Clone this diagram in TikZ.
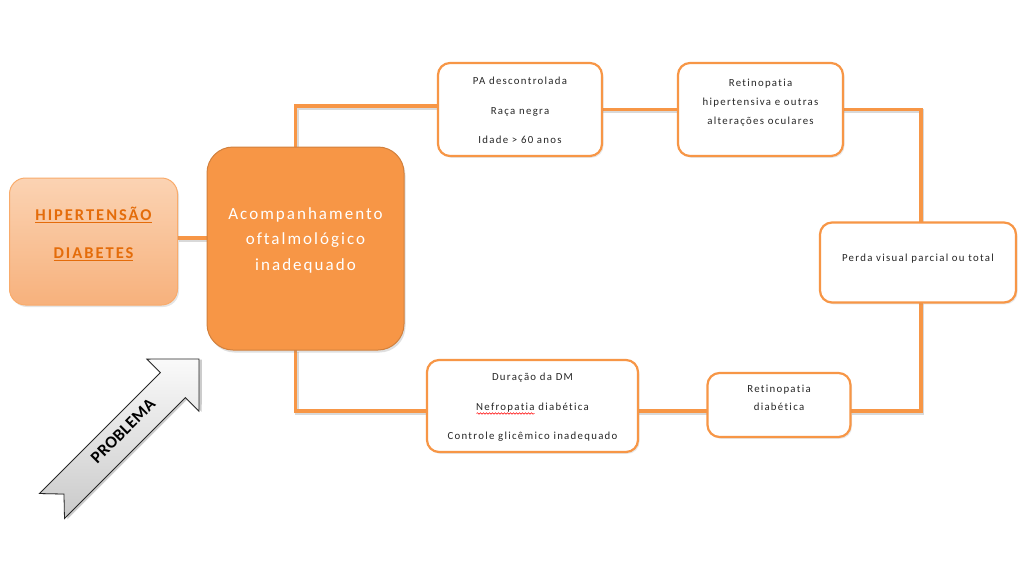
\documentclass[tikz,border=0pt]{standalone}
\usepackage{fontspec}
\setmainfont{Carlito}[LetterSpace=12, Ligatures=NoCommon]
\usetikzlibrary{shadows,decorations.pathmorphing,calc}
\pgfdeclarelayer{background}
\pgfdeclarelayer{paper}
\pgfsetlayers{paper,background,main}
\definecolor{orMain}{HTML}{F79646}
\definecolor{orDark}{HTML}{E46C0A}
\definecolor{orLightTop}{HTML}{FBD3B3}
\definecolor{orLightBot}{HTML}{F7B17C}
\definecolor{txtDark}{HTML}{262626}
\begin{document}
\begin{tikzpicture}[x=1pt,y=-1pt,
  box/.style={draw=orMain, line width=2.2pt, rounded corners=12pt, fill=white,
    inner sep=0pt, outer sep=0pt,
    drop shadow={opacity=0.18, shadow xshift=1.5pt, shadow yshift=-1.8pt}},
  smalltxt/.style={text=txtDark, align=center, inner sep=0pt},
  conn/.style={draw=orMain, line width=3.8pt},
  connshadow/.style={draw=black, opacity=0.15, line width=3.8pt},
]
\begin{pgfonlayer}{paper}
\fill[white] (0,0) rectangle (1024,581);
\end{pgfonlayer}
\useasboundingbox (0,0) rectangle (1024,581);

% boxes
\node[draw=orMain!80, line width=1pt, rounded corners=16pt, inner sep=0pt, outer sep=0pt,
      top color=orLightTop, bottom color=orLightBot,
      minimum width=168pt, minimum height=127pt,
      drop shadow={opacity=0.2, shadow xshift=1.5pt, shadow yshift=-2pt}] (hd) at (93.5,241.5) {};
\node[draw=orMain!85!black, line width=1pt, rounded corners=26pt, fill=orMain, inner sep=0pt, outer sep=0pt,
      minimum width=197pt, minimum height=203pt,
      drop shadow={opacity=0.25, shadow xshift=1.5pt, shadow yshift=-2.5pt}] (big) at (305.5,248.5) {};
\node[box, minimum width=164pt, minimum height=93pt] (pa) at (520,109.5) {};
\node[box, minimum width=165pt, minimum height=93pt] (rh) at (760.5,109.5) {};
\node[box, minimum width=196pt, minimum height=80pt] (pv) at (918,262.5) {};
\node[box, minimum width=143pt, minimum height=64pt] (rd) at (779,405) {};
\node[box, minimum width=211pt, minimum height=92pt] (dm) at (532.5,406) {};

% texts
\node[text=orDark, align=center, inner sep=0pt, font=\bfseries\fontsize{16.5}{38}\selectfont] (hdt)
  at ([yshift=7.5pt]hd.center) {\underline{HIPERTENSÃO}\\\underline{DIABETES}};
\node[text=white, align=center, inner sep=0pt, font=\fontsize{17}{25.5}\selectfont] (bigt)
  at ([yshift=8.5pt]big.center) {Acompanhamento\\oftalmológico\\inadequado};
\node[smalltxt, font=\fontsize{10.8}{29.5}\selectfont] (pat) at ([yshift=-1pt]pa.center)
  {PA descontrolada\\Raça negra\\Idade > 60 anos};
\node[smalltxt, font=\fontsize{10.8}{19}\selectfont] (rht) at ([yshift=6.5pt]rh.center)
  {Retinopatia\\hipertensiva e outras\\alterações oculares};
\node[smalltxt, font=\fontsize{10.8}{19}\selectfont] (pvt) at ([yshift=4pt]pv.center)
  {Perda visual parcial ou total};
\node[smalltxt, font=\fontsize{10.8}{18}\selectfont] (rdt) at ([yshift=7pt]rd.center)
  {Retinopatia\\diabética};
\node[smalltxt, font=\fontsize{10.8}{29.5}\selectfont] (dmt) at ([yshift=-1.5pt]dm.center)
  {Duração da DM\\Nefropatia diabética\\Controle glicêmico inadequado};
\draw[red, line width=0.5pt, decorate, decoration={snake, amplitude=0.8pt, segment length=3pt}]
  ([xshift=-56pt,yshift=-7.5pt]dm.center) -- ([xshift=2pt,yshift=-7.5pt]dm.center);

% connectors
\begin{pgfonlayer}{background}
\begin{scope}[transform canvas={xshift=1.2pt,yshift=-1.8pt}]
\draw[connshadow] ([yshift=3.5pt]hd.east) -- ([yshift=3.5pt]hd.east -| big.west);
\draw[connshadow] ([xshift=-10pt]big.north) |- ([yshift=3.5pt]pa.west);
\draw[connshadow] (pa.east) -- (rh.west);
\draw[connshadow] (rh.east) -| ([xshift=3pt]pv.north);
\draw[connshadow] ([xshift=3pt]pv.south) |- ([yshift=-6pt]rd.east);
\draw[connshadow] ([yshift=-6pt]rd.west) -- ([yshift=-6pt]rd.west -| dm.east);
\draw[connshadow] ([xshift=-10pt]big.south) |- ([yshift=-5pt]dm.west);
\end{scope}
\draw[conn] ([yshift=3.5pt]hd.east) -- ([yshift=3.5pt]hd.east -| big.west);
\draw[conn] ([xshift=-10pt]big.north) |- ([yshift=3.5pt]pa.west);
\draw[conn] (pa.east) -- (rh.west);
\draw[conn] (rh.east) -| ([xshift=3pt]pv.north);
\draw[conn] ([xshift=3pt]pv.south) |- ([yshift=-6pt]rd.east);
\draw[conn] ([yshift=-6pt]rd.west) -- ([yshift=-6pt]rd.west -| dm.east);
\draw[conn] ([xshift=-10pt]big.south) |- ([yshift=-5pt]dm.west);
\end{pgfonlayer}

% PROBLEMA arrow
\begin{scope}[shift={(125.5,432.5)}, rotate=45]
\fill[black, opacity=0.2, shift={(1.5,2.5)}]
  (104,0) -- (67,-36.8) -- (67,-17.7) -- (-104,-17.7) -- (-87,0) -- (-104,17.7) -- (67,17.7) -- (67,36.8) -- cycle;
\draw[draw=black!85, line width=0.8pt, top color=gray!4, bottom color=gray!42]
  (104,0) -- (67,-36.8) -- (67,-17.7) -- (-104,-17.7) -- (-87,0) -- (-104,17.7) -- (67,17.7) -- (67,36.8) -- cycle;
\end{scope}
\node[rotate=45, inner sep=0pt, font=\bfseries\fontsize{17}{17}\selectfont\addfontfeature{LetterSpace=3}] (prob) at (123,431) {PROBLEMA};
\end{tikzpicture}
\end{document}
